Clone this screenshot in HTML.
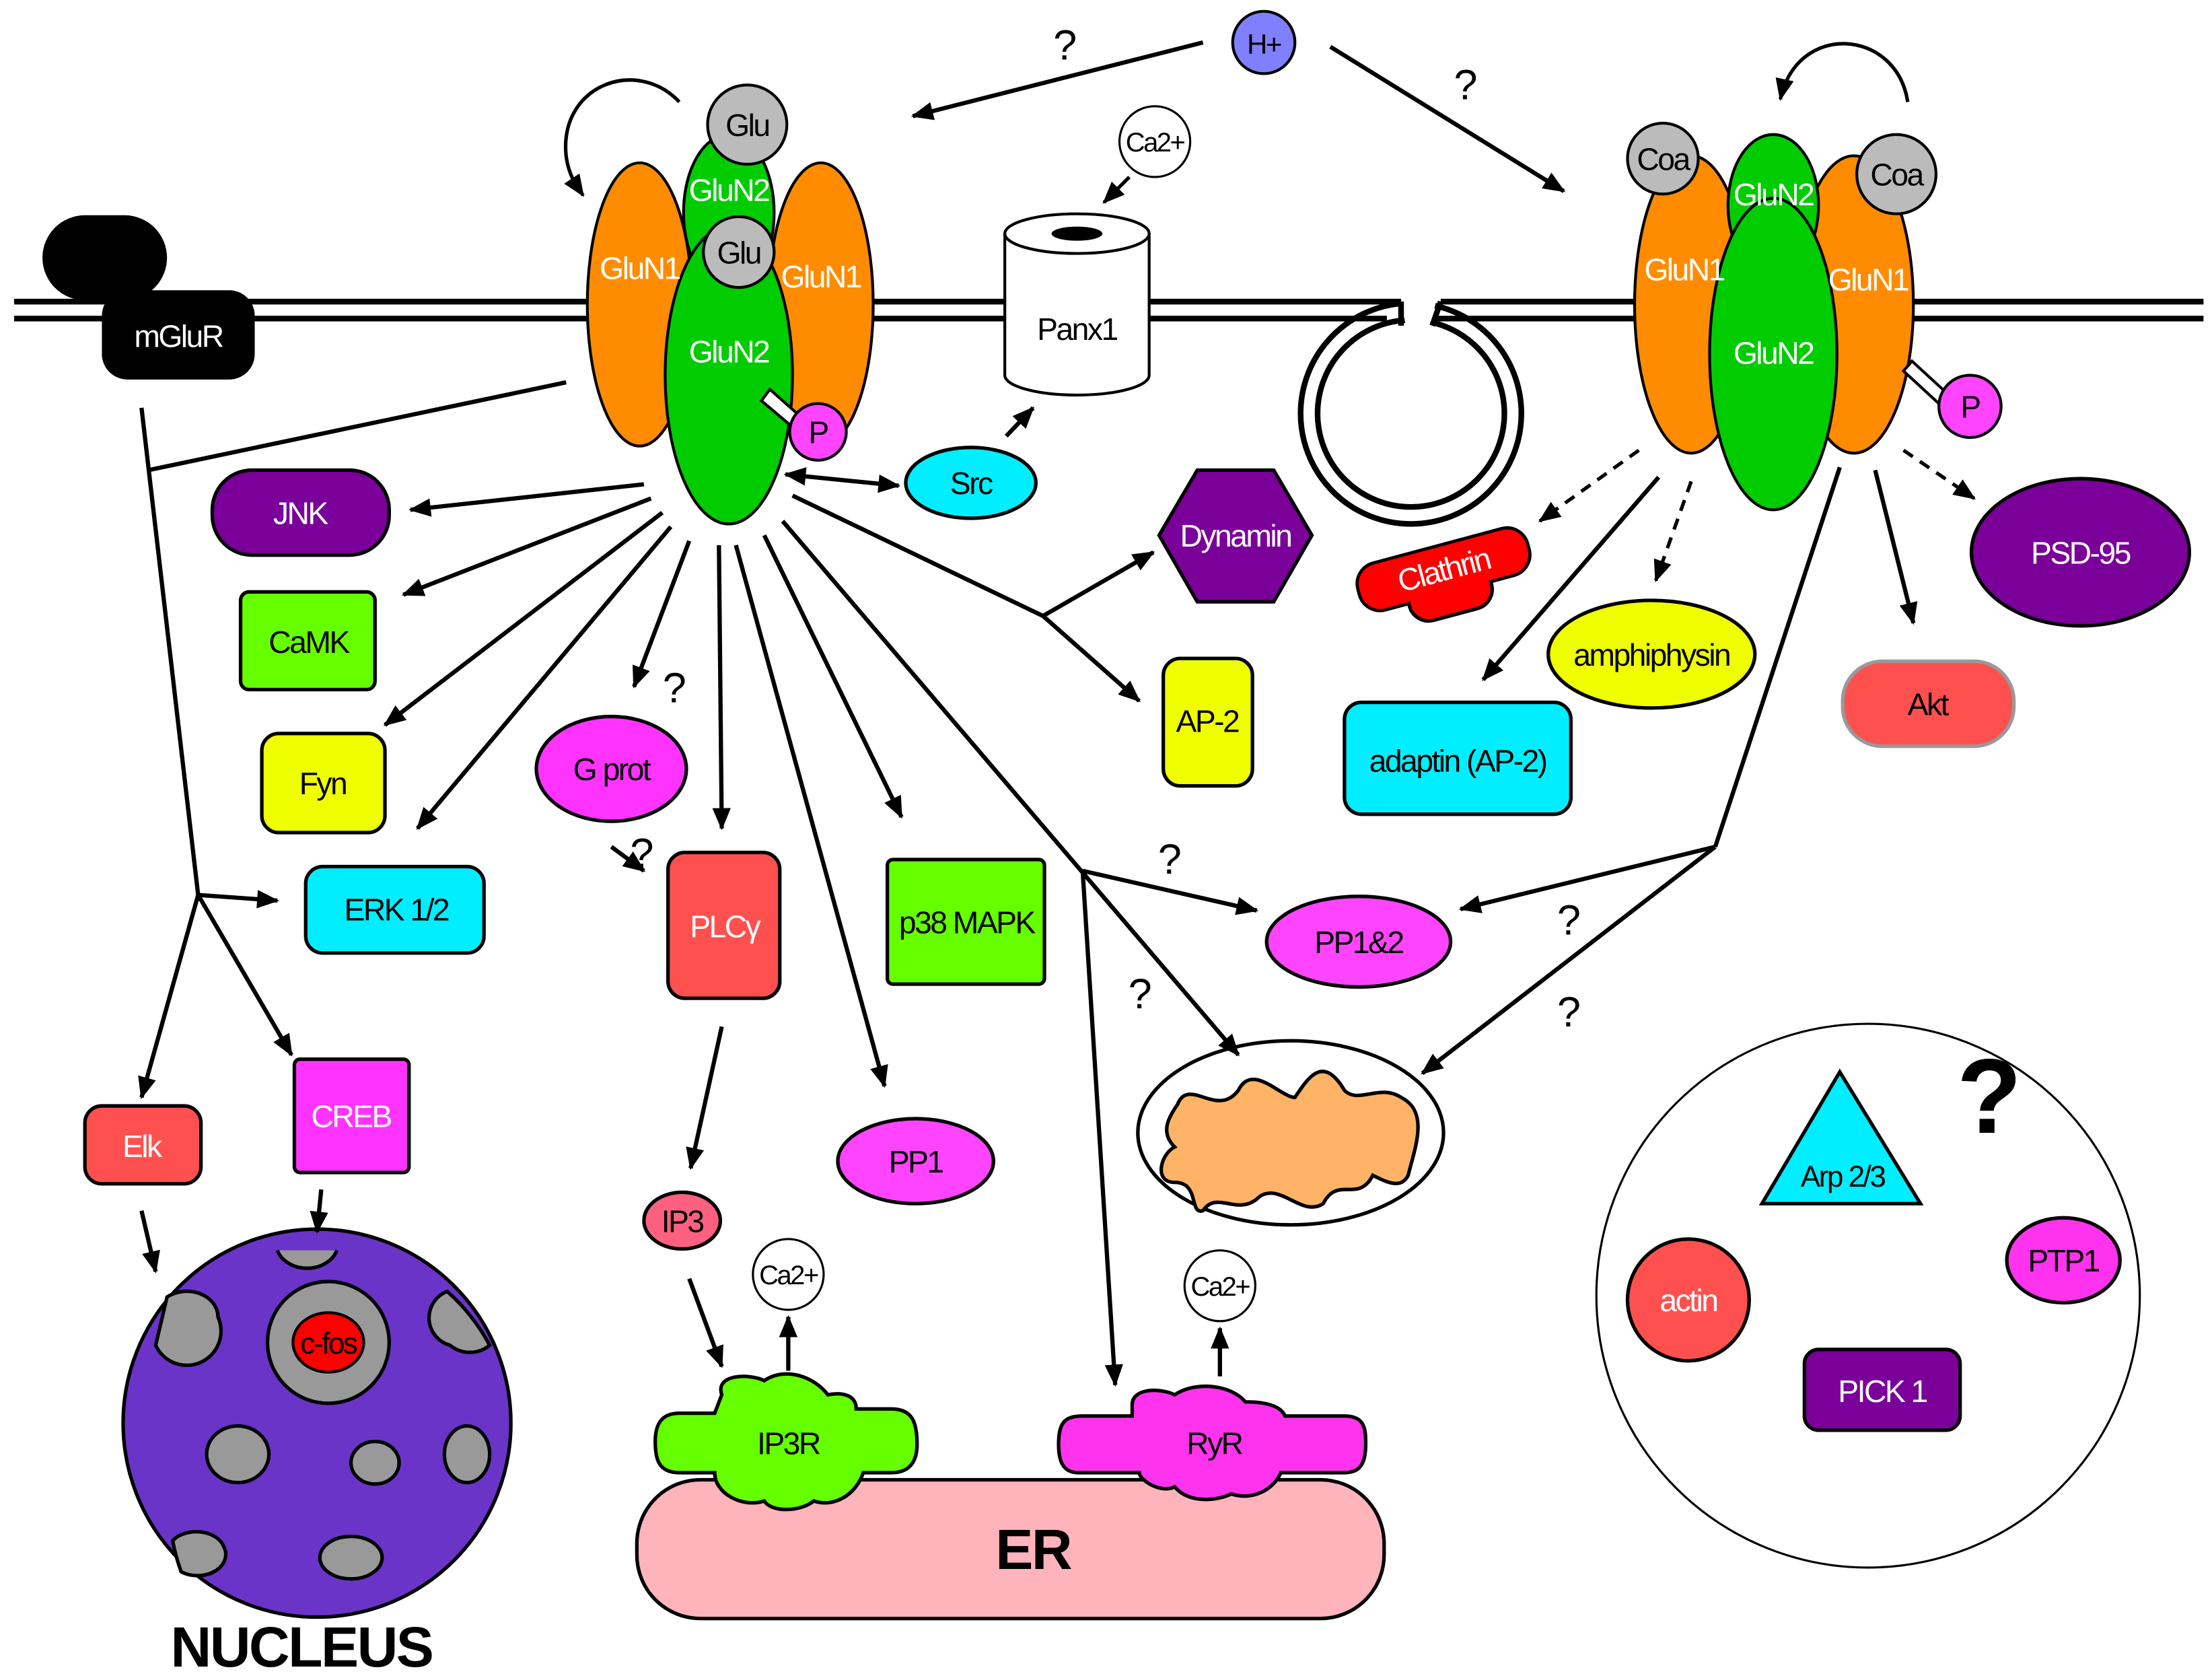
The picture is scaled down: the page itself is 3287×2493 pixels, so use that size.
<!DOCTYPE html>
<html><head><meta charset="utf-8">
<style>
html,body{margin:0;padding:0;background:#fff;}
svg{display:block;}
text{font-family:"Liberation Sans",Arial,sans-serif;letter-spacing:-1.2px;}
</style></head>
<body>
<svg width="3287" height="2493" viewBox="0 0 1563 1185" preserveAspectRatio="none" xmlns="http://www.w3.org/2000/svg">
<defs>
<marker id="ah" viewBox="0 0 12 10" refX="11" refY="5" markerWidth="16" markerHeight="13" orient="auto-start-reverse" markerUnits="userSpaceOnUse">
<path d="M0,0 L12,5 L0,10 z" fill="#000"/>
</marker>
</defs>
<rect width="1563" height="1185" fill="#fff"/>

<!-- vesicle -->
<circle cx="997" cy="292" r="78" fill="none" stroke="#000" stroke-width="4"/>
<circle cx="997" cy="292" r="66" fill="none" stroke="#000" stroke-width="4"/>
<polygon points="988,200 1018,200 1008,240 995,240" fill="#fff"/>
<!-- membrane -->
<g stroke="#000" stroke-width="4" fill="none">
<line x1="10" y1="213" x2="990" y2="213"/>
<line x1="10" y1="225" x2="980" y2="225"/>
<line x1="1018" y1="213" x2="1557" y2="213"/>
<line x1="1015" y1="225" x2="1557" y2="225"/>
<line x1="990" y1="213" x2="990" y2="230"/>
<line x1="1018" y1="213" x2="1012" y2="230"/>
</g>

<!-- mGluR -->
<rect x="30" y="152" width="88" height="60" rx="30" fill="#000"/>
<rect x="72" y="205" width="108" height="63" rx="18" fill="#000"/>
<text x="126" y="245" font-size="22" fill="#fff" text-anchor="middle">mGluR</text>

<!-- left NMDA receptor -->
<g stroke="#000" stroke-width="2">
<ellipse cx="452" cy="215" rx="37" ry="100" fill="#ff8c00"/>
<ellipse cx="580" cy="215" rx="37" ry="100" fill="#ff8c00"/>
<ellipse cx="515" cy="150" rx="32" ry="55" fill="#00cc00"/>
<ellipse cx="515" cy="265" rx="45" ry="105" fill="#00cc00"/>
<circle cx="528" cy="88" r="28" fill="#bbb"/>
<circle cx="522" cy="178" r="25" fill="#bbb"/>
<polygon points="538,283 544,275 570,298 564,305" fill="#fff"/>
<circle cx="578" cy="305" r="20" fill="#ff44ff"/>
</g>
<g fill="#fff" font-size="22" text-anchor="middle">
<text x="452" y="197">GluN1</text><text x="580" y="203">GluN1</text>
<text x="515" y="142">GluN2</text><text x="515" y="256">GluN2</text>
</g>
<text x="528" y="96" font-size="22" text-anchor="middle">Glu</text>
<text x="522" y="186" font-size="22" text-anchor="middle">Glu</text>
<text x="578" y="313" font-size="22" text-anchor="middle">P</text>
<path d="M480,72 C450,40 395,60 400,110 C402,125 408,132 412,138" fill="none" stroke="#000" stroke-width="2.5" marker-end="url(#ah)"/>

<!-- H+ -->
<circle cx="893" cy="30" r="22" fill="#8080ff" stroke="#000" stroke-width="2"/>
<text x="893" y="38" font-size="20" text-anchor="middle">H+</text>
<line x1="850" y1="30" x2="645" y2="82" stroke="#000" stroke-width="3" marker-end="url(#ah)"/>
<line x1="940" y1="33" x2="1105" y2="135" stroke="#000" stroke-width="3" marker-end="url(#ah)"/>
<text x="752" y="42" font-size="30" text-anchor="middle">?</text>
<text x="1035" y="70" font-size="30" text-anchor="middle">?</text>

<!-- Ca2+ top & Panx1 -->
<circle cx="816" cy="100" r="25" fill="#fff" stroke="#000" stroke-width="1.5"/>
<text x="816" y="107" font-size="19" text-anchor="middle">Ca2+</text>
<line x1="798" y1="125" x2="780" y2="143" stroke="#000" stroke-width="2.5" marker-end="url(#ah)"/>
<path d="M710,165 L710,265 A51,14 0 0 0 812,265 L812,165" fill="#fff" stroke="#000" stroke-width="2"/>
<ellipse cx="761" cy="165" rx="51" ry="14" fill="#fff" stroke="#000" stroke-width="2"/>
<ellipse cx="761" cy="165" rx="18" ry="5" fill="#000"/>
<text x="761" y="240" font-size="22" text-anchor="middle">Panx1</text>

<!-- right receptor -->
<g stroke="#000" stroke-width="2">
<ellipse cx="1195" cy="215" rx="40" ry="105" fill="#ff8c00"/>
<ellipse cx="1310" cy="215" rx="42" ry="105" fill="#ff8c00"/>
<ellipse cx="1253" cy="145" rx="32" ry="50" fill="#00cc00"/>
<ellipse cx="1253" cy="250" rx="45" ry="110" fill="#00cc00"/>
<circle cx="1175" cy="112" r="25" fill="#bbb"/>
<circle cx="1340" cy="123" r="28" fill="#bbb"/>
<polygon points="1345,262 1351,255 1376,278 1370,285" fill="#fff"/>
<circle cx="1392" cy="287" r="22" fill="#ff44ff"/>
</g>
<g fill="#fff" font-size="22" text-anchor="middle">
<text x="1190" y="198">GluN1</text><text x="1320" y="205">GluN1</text>
<text x="1253" y="145">GluN2</text><text x="1253" y="257">GluN2</text>
</g>
<text x="1175" y="120" font-size="22" text-anchor="middle">Coa</text>
<text x="1340" y="131" font-size="22" text-anchor="middle">Coa</text>
<text x="1392" y="295" font-size="22" text-anchor="middle">P</text>
<path d="M1348,72 C1340,20 1270,15 1258,70" fill="none" stroke="#000" stroke-width="2.5" marker-end="url(#ah)"/>

<!-- nodes -->
<g stroke="#000" stroke-width="2.5">
<ellipse cx="686" cy="341" rx="46" ry="25" fill="#00eeff"/>
<polygon points="846,332 900,332 927,378 900,425 846,425 819,378" fill="#7a0099"/>
<g transform="rotate(-15 1020 402)"><rect x="958" y="385" width="124" height="34" rx="15" fill="#ff0000"/><rect x="990" y="405" width="60" height="30" rx="14" fill="#ff0000"/><rect x="959" y="386" width="122" height="32" rx="14" fill="#ff0000" stroke="none"/></g>
<ellipse cx="1470" cy="390" rx="77" ry="52" fill="#7a0099"/>
<rect x="150" y="332" width="125" height="60" rx="28" fill="#7a0099"/>
<rect x="170" y="418" width="95" height="69" rx="6" fill="#66ff00"/>
<rect x="185" y="518" width="87" height="70" rx="12" fill="#f0ff00"/>
<rect x="216" y="612" width="126" height="61" rx="12" fill="#00eeff"/>
<ellipse cx="432" cy="543" rx="53" ry="37" fill="#ff33ff"/>
<rect x="472" y="602" width="79" height="103" rx="12" fill="#ff5050"/>
<rect x="627" y="607" width="111" height="88" rx="4" fill="#66ff00"/>
<rect x="822" y="465" width="63" height="90" rx="12" fill="#f0ff00"/>
<ellipse cx="1167" cy="462" rx="73" ry="38" fill="#f0ff00"/>
<rect x="950" y="496" width="160" height="79" rx="12" fill="#00eeff"/>
<rect x="1302" y="467" width="121" height="60" rx="28" fill="#ff5050" stroke="#999"/>
<ellipse cx="960" cy="665" rx="65" ry="32" fill="#ff44ff"/>
<ellipse cx="647" cy="820" rx="55" ry="30" fill="#ff44ff"/>
<ellipse cx="482" cy="862" rx="27" ry="20" fill="#ff6080"/>
<rect x="60" y="781" width="82" height="55" rx="12" fill="#ff5050"/>
<rect x="208" y="748" width="81" height="80" rx="4" fill="#ff33ff"/>
</g>
<g font-size="22" text-anchor="middle">
<text x="686" y="349">Src</text>
<text x="873" y="386" fill="#fff">Dynamin</text>
<text x="1020" y="410" fill="#fff" transform="rotate(-15 1020 402)">Clathrin</text>
<text x="1470" y="398" fill="#fff">PSD-95</text>
<text x="212" y="370" fill="#fff">JNK</text>
<text x="218" y="461">CaMK</text>
<text x="228" y="561">Fyn</text>
<text x="280" y="650">ERK 1/2</text>
<text x="432" y="551">G prot</text>
<text x="512" y="662" fill="#fff">PLCγ</text>
<text x="683" y="659">p38 MAPK</text>
<text x="853" y="517">AP-2</text>
<text x="1167" y="470">amphiphysin</text>
<text x="1030" y="545">adaptin (AP-2)</text>
<text x="1362" y="505">Akt</text>
<text x="960" y="673">PP1&amp;2</text>
<text x="647" y="828">PP1</text>
<text x="482" y="870">IP3</text>
<text x="100" y="817" fill="#fff">Elk</text>
<text x="248" y="796" fill="#fff">CREB</text>
</g>

<!-- mitochondrion -->
<ellipse cx="912" cy="800" rx="108" ry="65" fill="#fff" stroke="#000" stroke-width="2.5"/>
<path d="M832,780 C840,760 860,790 875,770 C885,750 905,775 915,775 C925,760 935,745 950,770 C960,780 975,765 990,775 C1010,785 1000,810 995,830 C990,840 980,835 970,830 C960,850 945,830 935,850 C920,860 905,835 890,845 C875,860 860,840 850,855 C840,858 848,835 830,835 C815,835 820,815 830,810 C820,800 825,790 832,780 Z" fill="#ffb366" stroke="#000" stroke-width="2.5"/>

<!-- Ca2+ near ER -->
<circle cx="557" cy="900" r="25" fill="#fff" stroke="#000" stroke-width="1.5"/>
<text x="557" y="907" font-size="19" text-anchor="middle">Ca2+</text>
<circle cx="862" cy="908" r="25" fill="#fff" stroke="#000" stroke-width="1.5"/>
<text x="862" y="915" font-size="19" text-anchor="middle">Ca2+</text>

<!-- ER -->
<rect x="450" y="1045" width="528" height="98" rx="45" fill="#ffb3ba" stroke="#000" stroke-width="2.5"/>
<text x="730" y="1108" font-size="40" font-weight="bold" text-anchor="middle">ER</text>
<path d="M510,985 C505,970 530,970 540,975 C555,965 575,972 585,985 C595,983 605,985 605,995 L630,995 C645,995 648,1005 648,1020 C648,1035 640,1040 630,1040 L610,1040 C605,1055 590,1065 575,1060 C565,1068 545,1068 540,1060 C525,1065 505,1055 505,1040 L480,1040 C465,1040 463,1030 463,1018 C463,1005 468,998 480,998 L505,998 Z" fill="#66ff00" stroke="#000" stroke-width="2.5"/>
<text x="557" y="1027" font-size="22" text-anchor="middle">IP3R</text>
<path d="M800,992 C800,980 820,980 830,985 C845,975 870,978 880,990 C895,990 905,993 908,1000 L950,1000 C965,1000 965,1010 965,1020 C965,1035 960,1040 950,1040 L905,1040 C900,1052 885,1060 870,1055 C860,1060 840,1062 830,1050 C820,1055 805,1045 805,1040 L762,1040 C750,1040 748,1030 748,1020 C748,1005 752,1000 765,1000 L800,1000 Z" fill="#ff33ee" stroke="#000" stroke-width="2.5"/>
<text x="858" y="1027" font-size="22" text-anchor="middle">RyR</text>

<!-- nucleus -->
<circle cx="224" cy="1005" r="137" fill="#6a34c8" stroke="#000" stroke-width="2.5"/>
<g fill="#999" stroke="#000" stroke-width="2.5">
<path d="M196,883 A22,18 0 0 0 238,883" />
<path d="M110,950 A22,22 0 0 0 154,930 A22,18 0 0 0 118,916 Z"/>
<path d="M316,912 A20,20 0 0 0 318,950 A22,22 0 0 0 346,950 A137,137 0 0 0 316,912 Z"/>
<ellipse cx="168" cy="1027" rx="22" ry="20"/>
<ellipse cx="265" cy="1033" rx="17" ry="15"/>
<ellipse cx="330" cy="1027" rx="16" ry="20"/>
<ellipse cx="248" cy="1100" rx="22" ry="15"/>
<path d="M128,1110 A20,15 0 0 0 158,1092 A20,14 0 0 0 122,1088 A137,137 0 0 0 128,1110 Z"/>
<circle cx="232" cy="948" r="43"/>
</g>
<ellipse cx="232" cy="948" rx="25" ry="21" fill="#ff0000" stroke="#000" stroke-width="2"/>
<text x="232" y="956" font-size="21" text-anchor="middle">c-fos</text>
<text x="213" y="1177" font-size="40" font-weight="bold" text-anchor="middle">NUCLEUS</text>

<!-- right circle -->
<circle cx="1320" cy="915" r="192" fill="#fff" stroke="#000" stroke-width="1.5"/>
<polygon points="1300,757 1245,850 1357,850" fill="#00eeff" stroke="#000" stroke-width="2.5"/>
<text x="1302" y="838" font-size="21" text-anchor="middle">Arp 2/3</text>
<text x="1405" y="800" font-size="75" font-weight="bold" text-anchor="middle">?</text>
<ellipse cx="1458" cy="890" rx="40" ry="30" fill="#ff33ee" stroke="#000" stroke-width="2.5"/>
<text x="1458" y="898" font-size="22" text-anchor="middle">PTP1</text>
<circle cx="1193" cy="918" r="43" fill="#ff5050" stroke="#000" stroke-width="2.5"/>
<text x="1193" y="926" font-size="22" text-anchor="middle" fill="#fff">actin</text>
<rect x="1275" y="953" width="110" height="57" rx="10" fill="#7a0099" stroke="#000" stroke-width="2.5"/>
<text x="1330" y="990" font-size="22" text-anchor="middle" fill="#fff">PICK 1</text>

<!-- connectors -->
<g stroke="#000" stroke-width="3" fill="none">
<line x1="455" y1="342" x2="290" y2="360" marker-end="url(#ah)"/>
<line x1="460" y1="352" x2="285" y2="420" marker-end="url(#ah)"/>
<line x1="468" y1="362" x2="272" y2="512" marker-end="url(#ah)"/>
<line x1="474" y1="372" x2="295" y2="585" marker-end="url(#ah)"/>
<line x1="487" y1="382" x2="448" y2="485" marker-end="url(#ah)"/>
<line x1="508" y1="385" x2="510" y2="585" marker-end="url(#ah)"/>
<line x1="520" y1="385" x2="625" y2="767" marker-end="url(#ah)"/>
<line x1="540" y1="378" x2="637" y2="577" marker-end="url(#ah)"/>
<line x1="553" y1="368" x2="875" y2="745" marker-end="url(#ah)"/>
<line x1="560" y1="350" x2="737" y2="435"/>
<line x1="737" y1="435" x2="815" y2="390" marker-end="url(#ah)"/>
<line x1="737" y1="435" x2="805" y2="495" marker-end="url(#ah)"/>
<line x1="555" y1="335" x2="635" y2="343" marker-start="url(#ah)" marker-end="url(#ah)"/>
<line x1="711" y1="308" x2="730" y2="288" marker-end="url(#ah)"/>
<line x1="400" y1="270" x2="105" y2="332"/>
<line x1="100" y1="288" x2="140" y2="632"/>
<line x1="140" y1="632" x2="196" y2="636" marker-end="url(#ah)"/>
<line x1="140" y1="632" x2="100" y2="775" marker-end="url(#ah)"/>
<line x1="140" y1="632" x2="206" y2="745" marker-end="url(#ah)"/>
<line x1="432" y1="598" x2="455" y2="615" marker-end="url(#ah)"/>
<line x1="510" y1="725" x2="488" y2="825" marker-end="url(#ah)"/>
<line x1="487" y1="903" x2="510" y2="965" marker-end="url(#ah)"/>
<line x1="557" y1="968" x2="557" y2="930" marker-end="url(#ah)"/>
<line x1="862" y1="972" x2="862" y2="938" marker-end="url(#ah)"/>
<line x1="100" y1="855" x2="110" y2="898" marker-end="url(#ah)"/>
<line x1="227" y1="840" x2="224" y2="870" marker-end="url(#ah)"/>
<line x1="765" y1="615" x2="788" y2="978" marker-end="url(#ah)"/>
<line x1="765" y1="615" x2="888" y2="643" marker-end="url(#ah)"/>
<line x1="1172" y1="337" x2="1048" y2="480" marker-end="url(#ah)"/>
<line x1="1300" y1="330" x2="1212" y2="598"/>
<line x1="1212" y1="598" x2="1032" y2="642" marker-end="url(#ah)"/>
<line x1="1212" y1="598" x2="1005" y2="758" marker-end="url(#ah)"/>
<line x1="1325" y1="332" x2="1352" y2="440" marker-end="url(#ah)"/>
</g>
<g stroke="#000" stroke-width="2.5" fill="none" stroke-dasharray="8,6">
<line x1="1158" y1="318" x2="1088" y2="368" marker-end="url(#ah)"/>
<line x1="1195" y1="340" x2="1170" y2="410" marker-end="url(#ah)"/>
<line x1="1345" y1="318" x2="1395" y2="352" marker-end="url(#ah)"/>
</g>
<g font-size="30" text-anchor="middle">
<text x="476" y="496">?</text>
<text x="453" y="613">?</text>
<text x="826" y="617">?</text>
<text x="805" y="712">?</text>
<text x="1108" y="660">?</text>
<text x="1108" y="725">?</text>
</g>
</svg>
</body></html>
